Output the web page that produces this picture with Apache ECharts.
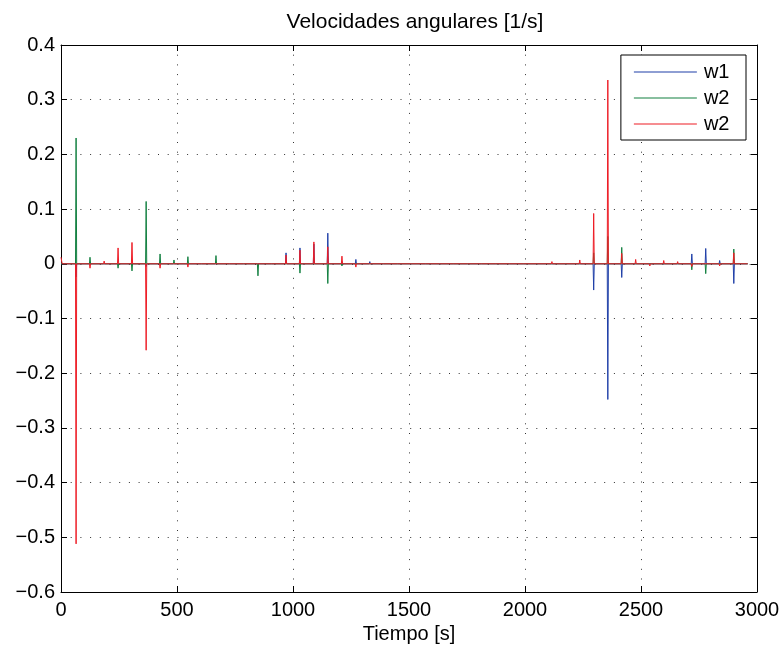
<!DOCTYPE html>
<html>
<head>
<meta charset="utf-8">
<script src="https://cdn.jsdelivr.net/npm/echarts@6/dist/echarts.min.js"></script>
<style>
html,body{margin:0;padding:0;background:#fff;}
#chart{width:783px;height:653px;}
</style>
</head>
<body>
<div id="chart"></div>
<script>
// Spike times [s]
var spikeTimes = [65,125,186,246,306,367,427,487,547,608,668,728,789,849,909,970,1030,1090,1150,1211,1271,1331,1392,1452,1512,1573,1633,1693,1754,1814,1874,1935,1995,2055,2116,2176,2236,2296,2357,2417,2477,2538,2598,2658,2719,2779,2839,2900];
// w1 (blue)
var w1Vals = [-0.024,0,0,0,0,-0.005,0,0,0,0.001,0,0.002,0.002,0,0.002,0.020,0.029,0.036,0.056,0.004,0.008,0.004,0.002,0.003,0.002,0.003,0,0,0,0,0,0,0.001,0,0,0,0,-0.048,-0.248,-0.025,0,0,0,0,0.018,0.028,0.006,-0.036];
// w2 (green)
var w2Vals = [0.230,0.012,0.002,-0.008,-0.013,0.114,0.018,0.007,0.013,0.003,0.015,0.003,0.002,-0.022,0.002,0,-0.017,0,-0.036,-0.004,-0.003,-0.002,0,0,0,0,0,0,0,0,0,0,0,0,0,0,-0.002,0.020,0.050,0.030,0,0,0,0,-0.011,-0.018,0,0.027];
// w2 (red)
var w3Vals = [-0.512,-0.008,0.005,0.029,0.039,-0.158,-0.008,-0.003,-0.006,0,-0.003,0,0,0,0.001,0.016,0.025,0.040,0.031,0.014,-0.006,0.001,0.001,0,-0.003,0.003,0.001,0.001,0,0.002,-0.003,0.002,0,0.001,0.004,-0.003,0.007,0.092,0.336,0.019,0.008,-0.004,0.006,0.004,-0.005,0.002,-0.004,0.020];
var startVals = [0, 0, 0.012];
var endTime = 2960;
var seriesNames = ['w1', 'w2', 'w2 '];
var seriesColors = ['#1f3fa8', '#128040', '#ee1c25'];
var xTicks = [0, 3000, 500];
var yTicks = [-0.6, 0.4, 0.1];

function buildData(vals, startVal) {
  var d = [[0, startVal], [5, 0]];
  for (var i = 0; i < spikeTimes.length; i++) {
    var t = spikeTimes[i];
    d.push([t - 2.5, 0]);
    d.push([t, vals[i]]);
    d.push([t + 2.5, 0]);
  }
  d.push([endTime, 0]);
  return d;
}

var allVals = [w1Vals, w2Vals, w3Vals];
var series = allVals.map(function (v, i) {
  return {
    name: seriesNames[i],
    type: 'line',
    data: buildData(v, startVals[i]),
    symbol: 'none',
    showSymbol: false,
    lineStyle: { width: 1, color: seriesColors[i] },
    itemStyle: { color: seriesColors[i] },
    xAxisIndex: 0,
    yAxisIndex: 0,
    z: 3 + i
  };
});

var font = 'Liberation Sans, Arial, Helvetica, sans-serif';
var axisLineStyle = { show: true, onZero: false, lineStyle: { color: '#000', width: 1 } };
var gridDots = { show: true, lineStyle: { color: '#333', width: 1, type: [1, 8.7] } };
var tickStyle = { show: true, inside: true, length: 6, lineStyle: { color: '#000' } };

function fmtY(v) {
  var r = Math.round(v * 10) / 10;
  return String(r).replace('-', '\u2212');
}
function fmtX(v) {
  return String(Math.round(v));
}

var chart = echarts.init(document.getElementById('chart'), null, { renderer: 'canvas' });
chart.setOption({
  backgroundColor: '#fff',
  animation: false,
  color: seriesColors,
  title: {
    text: 'Velocidades angulares [1/s]',
    left: 410,
    top: 7,
    textAlign: 'center',
    textStyle: { fontFamily: font, fontSize: 21, fontWeight: 'normal', color: '#000' }
  },
  legend: {
    orient: 'vertical',
    right: 37,
    top: 55,
    data: seriesNames,
    icon: 'rect',
    itemWidth: 63,
    itemHeight: 1,
    itemGap: 6,
    padding: [7, 11, 6, 13],
    borderColor: '#000',
    borderWidth: 1,
    backgroundColor: '#fff',
    selectedMode: false,
    textStyle: { fontFamily: font, fontSize: 20, color: '#000', lineHeight: 20, padding: [0, 0, 0, 2] }
  },
  grid: { left: 61, right: 26, top: 45, bottom: 61, containLabel: false },
  xAxis: [{
    type: 'value', min: xTicks[0], max: xTicks[1], interval: xTicks[2],
    name: 'Tiempo [s]', nameLocation: 'middle', nameGap: 28,
    nameTextStyle: { fontFamily: font, fontSize: 20, color: '#000' },
    axisLine: axisLineStyle,
    axisTick: tickStyle,
    axisLabel: { fontFamily: font, fontSize: 20, color: '#000', margin: 8, formatter: fmtX },
    splitLine: gridDots
  }, {
    type: 'value', position: 'top', min: xTicks[0], max: xTicks[1], interval: xTicks[2],
    axisLine: axisLineStyle,
    axisTick: tickStyle,
    axisLabel: { show: false },
    splitLine: { show: false }
  }],
  yAxis: [{
    type: 'value', min: yTicks[0], max: yTicks[1], interval: yTicks[2],
    axisLine: axisLineStyle,
    axisTick: tickStyle,
    axisLabel: { fontFamily: font, fontSize: 20, color: '#000', margin: 6, formatter: fmtY },
    splitLine: gridDots
  }, {
    type: 'value', position: 'right', min: yTicks[0], max: yTicks[1], interval: yTicks[2],
    axisLine: axisLineStyle,
    axisTick: tickStyle,
    axisLabel: { show: false },
    splitLine: { show: false }
  }],
  series: series
});
</script>
</body>
</html>
